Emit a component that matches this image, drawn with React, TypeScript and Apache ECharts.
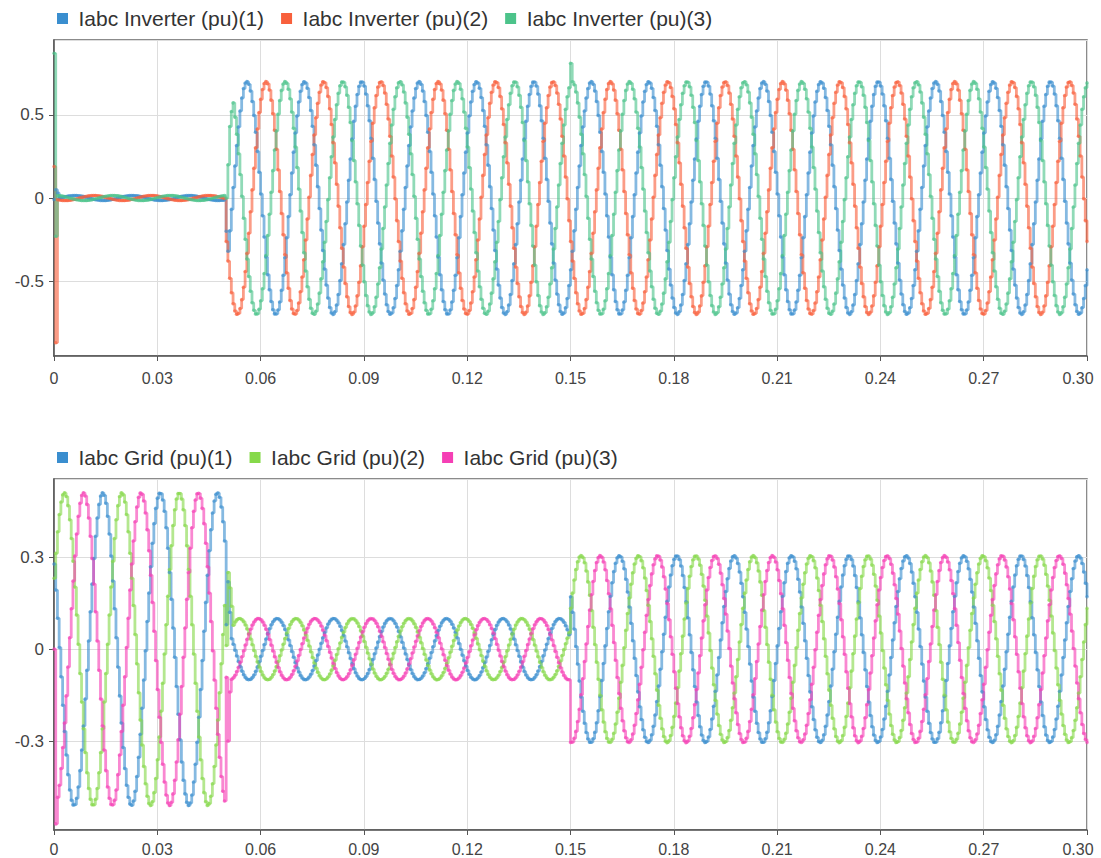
import React, { useEffect, useRef } from 'react';
import * as echarts from 'echarts';

// ---------- shared sampling / axis data ----------
const SAMPLE_STEP_S = 0.0005;
const T_END_S = 0.3;
const X_TICK_STEP = 0.03;
const xTickLabels = ['0', '0.03', '0.06', '0.09', '0.12', '0.15', '0.18', '0.21', '0.24', '0.27', '0.30'];

// ---------- Inverter currents (pu) ----------
const invNames = ['Iabc Inverter (pu)(1)', 'Iabc Inverter (pu)(2)', 'Iabc Inverter (pu)(3)'];
const invColors = ['#3a8ecf', '#f8603c', '#4cc38a'];
// waveform segments: start time, peak amplitude, frequency, phase of phase (1)
const invSegStart = [0, 0.05];
const invSegAmp = [0.015, 0.7];
const invSegFreqHz = [60, 60];
const invSegPhaseDeg = [128, 128];
// individual samples that depart from the steady waveform (switching transients) [time, value]
const invSpikes1 = [[0.0005, 0.05], [0.001, 0.03], [0.05, -0.2]];
const invSpikes2 = [[0, 0.19], [0.0005, -0.87]];
const invSpikes3 = [[0, 0.87], [0.0005, -0.23], [0.05, 0.0], [0.0505, 0.2], [0.051, 0.43], [0.0515, 0.52], [0.15, 0.81]];
const invYMin = -0.95;
const invYMax = 0.95;

// ---------- Grid currents (pu) ----------
const gridNames = ['Iabc Grid (pu)(1)', 'Iabc Grid (pu)(2)', 'Iabc Grid (pu)(3)'];
const gridColors = ['#3a8ecf', '#86d94a', '#f53fb5'];
const gridSegStart = [0, 0.05, 0.15];
const gridSegAmp = [0.51, 0.1, 0.305];
const gridSegFreqHz = [60, 61, 60];
const gridSegPhaseDeg = [303, 341, 304];
const gridSpikes1 = [[0.0505, 0.22], [0.051, 0.12]];
const gridSpikes2 = [[0.0505, 0.25], [0.051, 0.2], [0.0515, 0.14]];
const gridSpikes3 = [[0, 0], [0.0005, -0.57], [0.0505, -0.3], [0.051, -0.14]];
const gridYMin = -0.59;
const gridYMax = 0.555;

function buildWave(
  segStart: number[],
  segAmp: number[],
  segFreq: number[],
  segPhase: number[],
  phaseIndex: number,
  spikes: number[][]
): number[][] {
  const n = Math.round(T_END_S / SAMPLE_STEP_S);
  const out: number[][] = [];
  for (let i = 0; i <= n; i++) {
    const t = +(i * SAMPLE_STEP_S).toFixed(5);
    let s = 0;
    for (let k = 0; k < segStart.length; k++) if (t >= segStart[k] - 1e-9) s = k;
    const ang = 2 * Math.PI * segFreq[s] * t - ((segPhase[s] + 120 * phaseIndex) * Math.PI) / 180;
    out.push([t, +(segAmp[s] * Math.cos(ang)).toFixed(4)]);
  }
  spikes.forEach(([ts, v]) => {
    const idx = Math.round(ts / SAMPLE_STEP_S);
    if (out[idx]) out[idx][1] = v;
  });
  return out;
}

const FONT = 'Liberation Sans, Arial, Helvetica, sans-serif';

export default function App() {
  const ref = useRef<HTMLDivElement>(null);
  useEffect(() => {
    if (!ref.current) return;
    const chart = echarts.init(ref.current, undefined, { renderer: 'svg' });

    const invSpikes = [invSpikes1, invSpikes2, invSpikes3];
    const gridSpikes = [gridSpikes1, gridSpikes2, gridSpikes3];

    const mkSeries = (name: string, color: string, data: number[][], axis: number) => ({
      type: 'line',
      name,
      xAxisIndex: axis,
      yAxisIndex: axis,
      data,
      step: 'end',
      showSymbol: true,
      showAllSymbol: true,
      symbol: 'circle',
      symbolSize: 3.5,
      color,
      lineStyle: { width: 2.8, opacity: 0.62, color },
      itemStyle: { color, opacity: 0.62 },
      emphasis: { disabled: true },
      silent: true,
    });

    const series = [
      ...invNames.map((nm, i) =>
        mkSeries(nm, invColors[i], buildWave(invSegStart, invSegAmp, invSegFreqHz, invSegPhaseDeg, i, invSpikes[i]), 0)
      ),
      ...gridNames.map((nm, i) =>
        mkSeries(nm, gridColors[i], buildWave(gridSegStart, gridSegAmp, gridSegFreqHz, gridSegPhaseDeg, i, gridSpikes[i]), 1)
      ),
    ];

    const lastIdx = xTickLabels.length - 1;
    const xAxisBase = (gi: number, margin: number) => ({
      type: 'value',
      gridIndex: gi,
      min: 0,
      max: T_END_S,
      interval: X_TICK_STEP,
      axisLine: { show: true, onZero: false, lineStyle: { color: '#555', width: 1.5 } },
      axisTick: { show: true, length: 5, lineStyle: { color: '#555' } },
      axisLabel: {
        fontSize: 16,
        lineHeight: 16,
        color: '#444',
        fontFamily: FONT,
        margin,
        showMinLabel: true,
        showMaxLabel: true,
        formatter: (v: number) => {
          const i = Math.round(v / X_TICK_STEP);
          const s = xTickLabels[i] ?? '';
          return i === lastIdx ? `{last|${s}}` : s;
        },
        rich: {
          last: { fontSize: 16, lineHeight: 16, color: '#444', fontFamily: FONT, padding: [0, 18, 0, 0] },
        },
      },
      splitLine: { show: true, lineStyle: { color: '#dddddd', width: 1 } },
    });

    const yAxisBase = (gi: number, min: number, max: number) => ({
      type: 'value',
      gridIndex: gi,
      min,
      max,
      splitNumber: 4,
      axisLine: { show: true, onZero: false, lineStyle: { color: '#555', width: 1.5 } },
      axisTick: { show: true, length: 5, lineStyle: { color: '#555' } },
      axisLabel: {
        fontSize: 17,
        color: '#444',
        fontFamily: FONT,
        margin: 10,
        showMinLabel: false,
        showMaxLabel: false,
      },
      splitLine: { show: true, lineStyle: { color: '#dddddd', width: 1 } },
    });

    const legendBase = (names: string[], top: number) => ({
      data: names,
      left: 52,
      top,
      icon: 'path://M0,0 L10,0 L10,10 L0,10 Z',
      itemWidth: 22,
      itemHeight: 11,
      itemGap: 17,
      itemStyle: { opacity: 1 },
      textStyle: { fontSize: 21, color: '#333', fontFamily: FONT },
    });

    chart.setOption({
      animation: false,
      backgroundColor: '#ffffff',
      textStyle: { fontFamily: FONT },
      legend: [legendBase(invNames, 3), legendBase(gridNames, 442)],
      grid: [
        { left: 54, top: 40, width: 1033, height: 316, show: true, borderColor: '#666', borderWidth: 1.5, outerBoundsMode: 'none', containLabel: false },
        { left: 54, top: 479, width: 1033, height: 351, show: true, borderColor: '#666', borderWidth: 1.5, outerBoundsMode: 'none', containLabel: false },
      ],
      xAxis: [xAxisBase(0, 14), xAxisBase(1, 11)],
      yAxis: [yAxisBase(0, invYMin, invYMax), yAxisBase(1, gridYMin, gridYMax)],
      series,
    });
    return () => chart.dispose();
  }, []);
  return <div ref={ref} style={{ position: 'fixed', left: 0, top: 0, width: 1101, height: 858 }} />;
}
